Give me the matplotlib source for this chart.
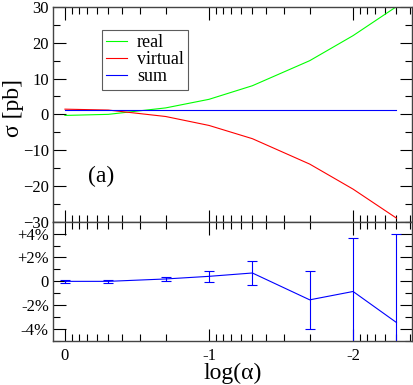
import matplotlib
matplotlib.use('Agg')
import numpy as np
import matplotlib.pyplot as plt
from matplotlib.ticker import FixedLocator, FixedFormatter, LogLocator, MultipleLocator, NullFormatter

plt.rcParams['font.family'] = ['Liberation Serif', 'DejaVu Serif']

# ── Data ─────────────────────────────────────────────────────────────────────
alpha     = [1.0, 0.5, 0.2, 0.1, 0.05, 0.02, 0.01, 0.005]
real      = [-0.3, 0.0, 1.8, 4.2, 8.0, 15.0, 22.0, 30.1]
virtual   = [1.45, 1.2, -0.6, -3.1, -6.8, -13.9, -20.9, -29.0]
sigma_sum = [1.15, 1.15, 1.15, 1.15, 1.15, 1.15, 1.15, 1.15]

rel_dev = [0.0, 0.0, 0.2, 0.42, 0.7, -1.55, -0.85, -3.45]
rel_err = [0.1, 0.1, 0.2, 0.45, 1.0, 2.45, 4.45, 7.4]

x_major        = [1.0, 0.1, 0.01]
x_major_labels = ['0', '-1', '-2']
y2_ticks       = [4, 2, 0, -2, -4]
y2_labels      = ['+4%', '+2%', '0', '-2%', '-4%']

SPINE = '#444444'

fig = plt.figure(figsize=(4.14, 3.85), dpi=100)
ax1 = fig.add_axes([53/414, 1-221.7/385, 359/414, 214.7/385])
ax2 = fig.add_axes([53/414, 1-341/385, 359/414, 119.3/385], sharex=ax1)

for ax in (ax1, ax2):
    ax.set_xscale('log')
    ax.set_xlim(1.21, 0.0039)
    ax.xaxis.set_major_locator(FixedLocator(x_major))
    ax.xaxis.set_minor_locator(LogLocator(base=10, subs=np.arange(2, 10)))
    ax.xaxis.set_minor_formatter(NullFormatter())
    ax.tick_params(which='both', direction='in', top=True, right=True,
                   labelsize=12, colors='black', width=0.8)
    ax.tick_params(which='major', length=9, pad=3)
    ax.tick_params(which='minor', length=5)
    for s in ax.spines.values():
        s.set_color(SPINE)
        s.set_linewidth(1.0)

# ── Top: cross sections ──────────────────────────────────────────────────────
ax1.plot(alpha, real, color='#00ff00', lw=0.8, label='real')
ax1.plot(alpha, virtual, color='#ff0000', lw=0.8, label='virtual')
ax1.plot(alpha, sigma_sum, color='#0000ff', lw=0.8, label='sum')
ax1.set_ylim(-30, 30)
ax1.yaxis.set_major_locator(MultipleLocator(10))
ax1.yaxis.set_minor_locator(MultipleLocator(5))
ax1.tick_params(axis='x', labelbottom=False)
leg = ax1.legend(loc='upper left', bbox_to_anchor=(0.136, 0.893), borderaxespad=0,
                 fontsize=13, frameon=True, fancybox=False, handlelength=1.15,
                 handletextpad=0.55, labelspacing=0.0, borderpad=0.25)
leg.get_frame().set_edgecolor('#333333')
leg.get_frame().set_linewidth(0.8)
ax1.text(0.097, 0.21, '(a)', transform=ax1.transAxes, fontsize=17, va='center')

# ── Bottom: relative deviation ───────────────────────────────────────────────
ax2.errorbar(alpha, rel_dev, yerr=rel_err, color='#0000ff', lw=0.8,
             elinewidth=0.8, capsize=3.5, capthick=0.8)
ax2.set_ylim(-5, 5)
ax2.yaxis.set_major_locator(FixedLocator(y2_ticks))
ax2.yaxis.set_major_formatter(FixedFormatter(y2_labels))
ax2.yaxis.set_minor_locator(MultipleLocator(1))
ax2.xaxis.set_major_formatter(FixedFormatter(x_major_labels))
ax2.tick_params(axis='x', pad=5)

fig.text(14/414, 1-108/385, 'σ [pb]', rotation=90, ha='center', va='center', fontsize=17)
fig.text(233/414, 1-373/385, 'log(α)', ha='center', va='center', fontsize=17)

plt.savefig('out.png', dpi=100)
plt.close()
